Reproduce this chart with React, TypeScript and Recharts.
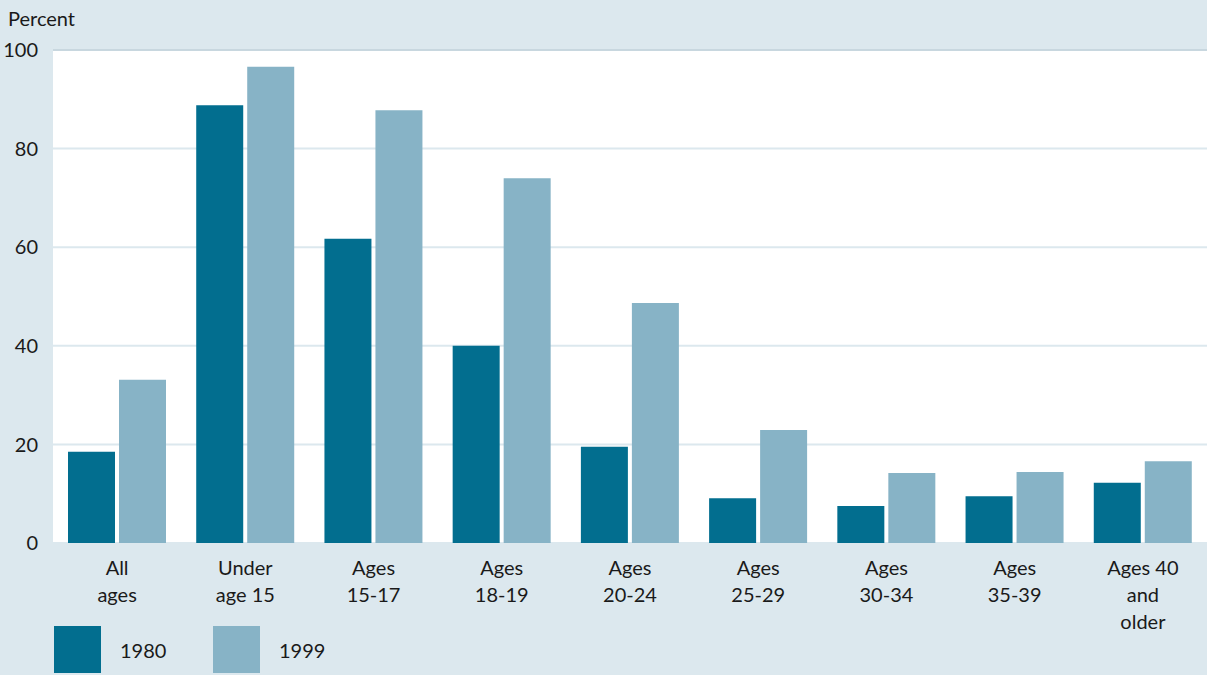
import { Bar, BarChart, CartesianGrid, ReferenceLine, XAxis, YAxis } from "recharts";

const categories = [
  "All\nages",
  "Under\nage 15",
  "Ages\n15-17",
  "Ages\n18-19",
  "Ages\n20-24",
  "Ages\n25-29",
  "Ages\n30-34",
  "Ages\n35-39",
  "Ages 40\nand\nolder",
];
const values1980 = [18.5, 88.8, 61.7, 40.0, 19.5, 9.1, 7.5, 9.5, 12.2];
const values1999 = [33.1, 96.6, 87.8, 74.0, 48.7, 22.9, 14.2, 14.4, 16.6];
const yTicks = [0, 20, 40, 60, 80, 100];
const seriesNames = ["1980", "1999"];

const DARK = "#026e8f";
const LIGHT = "#87b3c6";
const BG = "#dce8ee";
const FONT = "Lato, 'Noto Sans', sans-serif";
const TEXT = "#1a1a1a";

const data = categories.map((label, i) => ({
  label,
  y1980: values1980[i],
  y1999: values1999[i],
}));

function CategoryTick({ x, y, payload }: { x?: number; y?: number; payload?: { value: string } }) {
  const lines = (payload?.value ?? "").split("\n");
  return (
    <text x={x} y={y} textAnchor="middle" fill={TEXT} fontSize={20} fontFamily={FONT}>
      {lines.map((line, i) => (
        <tspan key={i} x={x} dy={i === 0 ? 24 : 27}>
          {line}
        </tspan>
      ))}
    </text>
  );
}

function LegendBlock() {
  const colors = [DARK, LIGHT];
  return (
    <div
      style={{
        position: "absolute",
        left: 54,
        top: 626,
        display: "flex",
        fontFamily: FONT,
        fontSize: 20,
        color: TEXT,
      }}
    >
      {seriesNames.map((name, i) => (
        <div key={name} style={{ display: "flex", alignItems: "center", width: 159 }}>
          <div style={{ width: 47, height: 47, background: colors[i], marginRight: 19 }} />
          <span>{name}</span>
        </div>
      ))}
    </div>
  );
}

export default function App() {
  return (
    <div style={{ position: "fixed", left: 0, top: 0, width: 1207, height: 675, background: BG }}>
      <div
        style={{
          position: "absolute",
          left: 8,
          top: 6,
          fontFamily: FONT,
          fontSize: 20,
          color: TEXT,
        }}
      >
        Percent
      </div>
      <BarChart
        width={1207}
        height={675}
        data={data}
        margin={{ top: 50, right: 0, bottom: 0, left: 0 }}
        barGap={4}
        barCategoryGap={15}
      >
        <CartesianGrid vertical={false} fill="#ffffff" stroke={BG} strokeWidth={2} />
        <XAxis
          dataKey="label"
          height={132}
          axisLine={false}
          tickLine={false}
          interval={0}
          tick={<CategoryTick />}
        />
        <YAxis
          width={53}
          domain={[0, 100]}
          ticks={yTicks}
          axisLine={false}
          tickLine={false}
          tickMargin={9}
          tick={{ fill: TEXT, fontSize: 20, fontFamily: FONT }}
        />
        <ReferenceLine y={100} stroke="#c8d7df" strokeWidth={2} />
        <Bar dataKey="y1980" name={seriesNames[0]} fill={DARK} isAnimationActive={false} />
        <Bar dataKey="y1999" name={seriesNames[1]} fill={LIGHT} isAnimationActive={false} />
      </BarChart>
      <LegendBlock />
    </div>
  );
}
